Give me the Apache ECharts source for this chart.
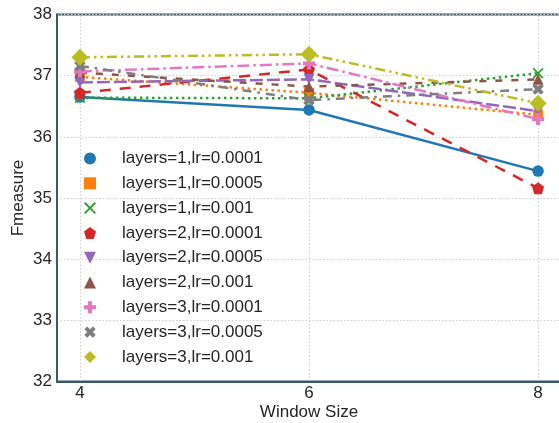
<!DOCTYPE html>
<html>
<head>
<meta charset="utf-8">
<script src="https://cdn.jsdelivr.net/npm/echarts@6/dist/echarts.min.js"></script>
<style>
html,body{margin:0;padding:0;background:#fff;overflow:hidden;}
#chart{width:559px;height:423px;}
</style>
</head>
<body>
<div id="chart"></div>
<script>
var windowSizes = [4, 6, 8];
var xTicks = [4, 6, 8];
var yTicks = [32, 33, 34, 35, 36, 37, 38];
var seriesNames = [
  'layers=1,lr=0.0001', 'layers=1,lr=0.0005', 'layers=1,lr=0.001',
  'layers=2,lr=0.0001', 'layers=2,lr=0.0005', 'layers=2,lr=0.001',
  'layers=3,lr=0.0001', 'layers=3,lr=0.0005', 'layers=3,lr=0.001'
];
var l1_0001 = [36.65, 36.44, 35.44];
var l1_0005 = [36.98, 36.72, 36.36];
var l1_001  = [36.64, 36.63, 37.04];
var l2_0001 = [36.72, 37.10, 35.16];
var l2_0005 = [36.89, 36.94, 36.42];
var l2_001  = [37.05, 36.82, 36.94];
var l3_0001 = [37.07, 37.20, 36.29];
var l3_0005 = [37.16, 36.60, 36.78];
var l3_001  = [37.30, 37.35, 36.55];
var allValues = [l1_0001, l1_0005, l1_001, l2_0001, l2_0005, l2_001, l3_0001, l3_0005, l3_001];

var colors = ['#1f77b4', '#ff7f0e', '#2ca02c', '#d62728', '#9467bd', '#8c564b', '#e377c2', '#7f7f7f', '#bcbd22'];
var X_PATH = 'path://M0,1.3 L1.3,0 L12,10.7 L10.7,12 Z M10.7,0 L12,1.3 L1.3,12 L0,10.7 Z';
var PENT = 'path://M50,0 L97.6,34.5 L79.4,90.5 L20.6,90.5 L2.4,34.5 Z';
var DOWN = 'path://M0,0 L10,0 L5,8.7 Z';
var PLUS = 'path://M3.3,0 L6.7,0 L6.7,3.3 L10,3.3 L10,6.7 L6.7,6.7 L6.7,10 L3.3,10 L3.3,6.7 L0,6.7 L0,3.3 L3.3,3.3 Z';
var symbols = ['circle', 'rect', X_PATH, PENT, DOWN, 'triangle', PLUS, PLUS, 'diamond'];
var symRot = [0, 0, 0, 0, 0, 0, 0, 45, 0];
var symSizes = [11.5, 10, 11, 12, 11, 11, 12, 12, 17];
var dashes = ['solid', [2.5, 3.5], [2.5, 3.5], [11, 9], [13, 4], [7, 9], [12, 4, 2.5, 4], [9, 6, 2.5, 6], [10, 4, 2.5, 4, 2.5, 4]];

var FONT = 'Liberation Sans, Arial, sans-serif';
var TXT = '#262626';

var series = [{
  type: 'line', data: [], silent: true, z: 0,
  markLine: {
    silent: true, symbol: 'none', label: {show: false}, z: 0,
    lineStyle: {color: '#cfcfcf', type: [1.5, 2], width: 1},
    data: xTicks.map(function (v) { return {xAxis: v}; })
  }
}];
seriesNames.forEach(function (name, i) {
  series.push({
    name: name,
    type: 'line',
    z: 2 + i,
    data: windowSizes.map(function (x, j) { return [x, allValues[i][j]]; }),
    symbol: symbols[i],
    symbolRotate: symRot[i],
    symbolSize: symSizes[i],
    showAllSymbol: true,
    color: colors[i],
    itemStyle: {color: colors[i]},
    lineStyle: {color: colors[i], width: 2.5, type: dashes[i], cap: 'butt'},
    emphasis: {disabled: true},
    animation: false
  });
});

var chart = echarts.init(document.getElementById('chart'), null, {renderer: 'canvas'});
chart.setOption({
  animation: false,
  backgroundColor: '#ffffff',
  grid: {
    left: 57, top: 14.5, right: -2, bottom: 41.5,
    outerBoundsMode: 'none', containLabel: false,
    show: true, borderColor: '#3a5864', borderWidth: 1.8, backgroundColor: 'transparent'
  },
  legend: {
    data: seriesNames,
    orient: 'vertical',
    left: 62, top: 150,
    itemWidth: 54, itemHeight: 15, itemGap: 7.8,
    lineStyle: {opacity: 0},
    textStyle: {fontFamily: FONT, fontSize: 17, color: TXT},
    padding: 0
  },
  xAxis: {
    type: 'value', min: 3.8, max: 8.2, interval: 0.2,
    name: 'Window Size', nameLocation: 'middle', nameGap: 22.5, nameMoveOverlap: false,
    nameTextStyle: {fontFamily: FONT, fontSize: 17, color: TXT},
    axisLine: {show: true, lineStyle: {color: '#3a5864', width: 1.8}},
    axisTick: {show: false},
    splitLine: {show: false},
    axisLabel: {
      fontFamily: FONT, fontSize: 17, color: TXT, margin: 3,
      formatter: function (v) {
        var r = Math.round(v * 10) / 10;
        return xTicks.indexOf(r) >= 0 ? String(r) : '';
      }
    }
  },
  yAxis: {
    type: 'value', min: yTicks[0], max: yTicks[yTicks.length - 1], interval: 1,
    name: 'Fmeasure', nameLocation: 'middle', nameGap: 30, nameMoveOverlap: false,
    nameTextStyle: {fontFamily: FONT, fontSize: 17, color: TXT},
    axisLine: {show: true, lineStyle: {color: '#3a5864', width: 1.8}},
    axisTick: {show: false},
    splitLine: {show: true, lineStyle: {color: '#cfcfcf', type: [1.5, 2], width: 1}},
    axisLabel: {fontFamily: FONT, fontSize: 17, color: TXT, margin: 5}
  },
  series: series
});
</script>
</body>
</html>
